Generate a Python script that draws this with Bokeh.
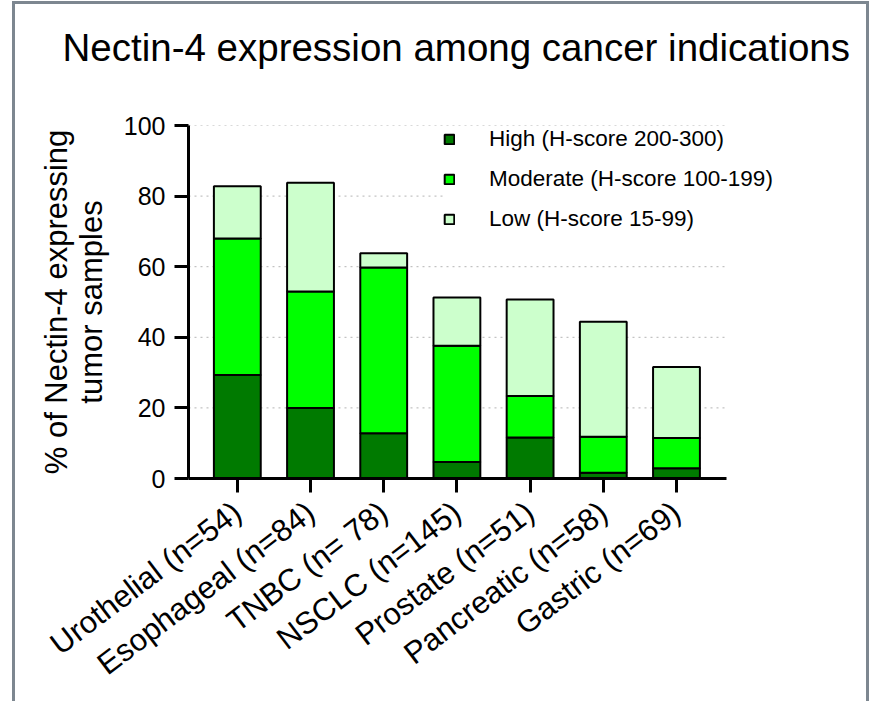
from bokeh.plotting import figure
from bokeh.models import (ColumnDataSource, Range1d, FixedTicker, Legend)
from bokeh.embed import file_html
from bokeh.resources import INLINE

categories = ["Urothelial (n=54)", "Esophageal (n=84)", "TNBC (n= 78)", "NSCLC (n=145)",
              "Prostate (n=51)", "Pancreatic (n=58)", "Gastric (n=69)"]
high = [29.3, 20.0, 12.8, 4.7, 11.6, 1.6, 2.9]
moderate = [38.7, 33.0, 47.0, 32.9, 11.8, 10.2, 8.6]
low = [14.8, 30.8, 4.0, 13.7, 27.3, 32.6, 20.1]
series = ["high", "moderate", "low"]
series_labels = ["High (H-score 200-300)", "Moderate (H-score 100-199)", "Low (H-score 15-99)"]
colors = ["#007a00", "#00ff00", "#ccffcc"]
y_ticks = [0, 20, 40, 60, 80, 100]

X_START, X_AXIS_END, X_FRAME_END = -0.667, 6.683, 8.678

xpos = list(range(len(categories)))
source = ColumnDataSource(dict(x=xpos, high=high, moderate=moderate, low=low))

p = figure(width=857, height=700, output_backend="svg", toolbar_location=None,
           x_range=Range1d(X_START, X_FRAME_END), y_range=Range1d(0, 100),
           min_border_left=173, min_border_right=0, min_border_top=121, min_border_bottom=226,
           title="Nectin-4 expression among cancer indications")
p.outline_line_color = None
p.background_fill_color = "white"
p.border_fill_color = "white"
p.margin = (1, 0, 0, 12)
p.styles = {"border-left": "3px solid #7d8790", "border-top": "3px solid #7d8790",
            "border-right": "3px solid #7d8790"}

# dotted horizontal grid (only across the axis extent)
grid_y = [t for t in y_ticks if t > 0]
p.segment(x0=[X_START] * len(grid_y), x1=[X_AXIS_END] * len(grid_y), y0=grid_y, y1=grid_y,
          line_color="#b4b4b4", line_dash="2 4", line_width=1)

renderers = p.vbar_stack(series, x="x", width=0.64, source=source, color=colors,
                         line_color="black", line_width=2)

legend = Legend(items=[(lab, [r]) for lab, r in zip(series_labels, renderers)],
                location=(255, 246), padding=30, spacing=14, margin=0,
                glyph_width=12, glyph_height=12, label_standoff=34, label_height=26,
                label_text_font="Liberation Sans", label_text_font_size="22.5px",
                label_text_color="black",
                border_line_color=None, background_fill_color="white", background_fill_alpha=1)
p.add_layout(legend, "center")

# title
p.title.text_font = "Liberation Sans"
p.title.text_font_size = "38.5px"
p.title.text_font_style = "normal"
p.title.align = "left"
p.title.vertical_align = "bottom"
p.title.offset = -126
p.title.text_color = "black"
p.title.standoff = 0
p.title.padding = dict(left=0, right=0, top=0, bottom=57)

# axes
for ax in (p.xaxis[0], p.yaxis[0]):
    ax.axis_line_width = 3
    ax.axis_line_color = "black"
    ax.major_tick_line_width = 3
    ax.major_tick_line_color = "black"
    ax.major_tick_out = 14
    ax.major_tick_in = 0
    ax.minor_tick_line_color = None
    ax.major_label_text_font = "Liberation Sans"
    ax.major_label_text_color = "black"

p.yaxis.ticker = FixedTicker(ticks=y_ticks)
p.yaxis.major_label_text_font_size = "25px"
p.yaxis.major_label_standoff = 9
p.yaxis.axis_label = "% of Nectin-4 expressing\ntumor samples"
p.yaxis.axis_label_text_font = "Liberation Sans"
p.yaxis.axis_label_text_font_size = "31px"
p.yaxis.axis_label_text_font_style = "normal"
p.yaxis.axis_label_text_color = "black"
p.yaxis.axis_label_text_line_height = 1.0
p.yaxis.axis_label_standoff = 12

p.xaxis.ticker = FixedTicker(ticks=xpos)
p.xaxis.bounds = (X_START, X_AXIS_END)
p.xaxis.major_label_overrides = {i: c for i, c in zip(xpos, categories)}
p.xaxis.major_label_orientation = 0.65
p.xaxis.major_label_text_font_size = "31px"
p.xaxis.major_label_standoff = 16

p.xgrid.grid_line_color = None
p.ygrid.grid_line_color = None

open("out.html", "w").write(file_html(p, INLINE))
